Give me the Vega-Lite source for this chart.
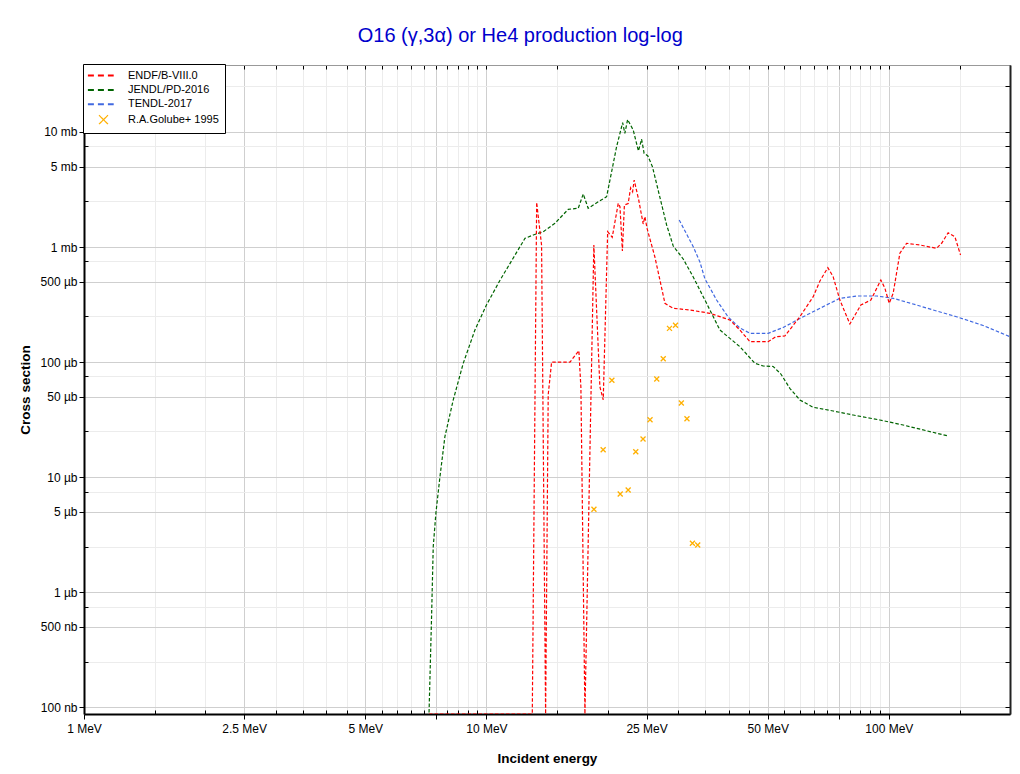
{
  "$schema": "https://vega.github.io/schema/vega-lite/v6.json",
  "width": 926,
  "height": 649,
  "autosize": {"type": "none"},
  "padding": {"left": 84, "top": 65, "right": 10, "bottom": 60},
  "background": "white",
  "title": {"text": "O16 (γ,3α) or He4 production log-log", "font": "Liberation Sans", "fontSize": 20, "fontWeight": "normal", "color": "#0000cc", "anchor": "middle", "frame": "bounds", "offset": 18, "dx": 6},
  "config": {
    "view": {"stroke": null},
    "font": "Liberation Sans",
    "axis": {"labelFont": "Liberation Sans", "titleFont": "Liberation Sans", "labelColor": "#000", "titleColor": "#000", "labelFontSize": 12, "titleFontSize": 13.5, "titleFontWeight": "bold", "tickColor": "#000"}
  },
  "datasets": {
    "lines": [
      {"s": "JENDL/PD-2016", "E": 7.195, "xs": 0.0000809},
      {"s": "JENDL/PD-2016", "E": 7.31, "xs": 0.000661},
      {"s": "JENDL/PD-2016", "E": 7.376, "xs": 0.00249},
      {"s": "JENDL/PD-2016", "E": 7.49, "xs": 0.00489},
      {"s": "JENDL/PD-2016", "E": 7.665, "xs": 0.0101},
      {"s": "JENDL/PD-2016", "E": 7.885, "xs": 0.0225},
      {"s": "JENDL/PD-2016", "E": 8.27, "xs": 0.0469},
      {"s": "JENDL/PD-2016", "E": 8.757, "xs": 0.0976},
      {"s": "JENDL/PD-2016", "E": 9.363, "xs": 0.19},
      {"s": "JENDL/PD-2016", "E": 10.0, "xs": 0.313},
      {"s": "JENDL/PD-2016", "E": 10.8, "xs": 0.512},
      {"s": "JENDL/PD-2016", "E": 11.66, "xs": 0.803},
      {"s": "JENDL/PD-2016", "E": 12.47, "xs": 1.19},
      {"s": "JENDL/PD-2016", "E": 13.07, "xs": 1.271},
      {"s": "JENDL/PD-2016", "E": 13.84, "xs": 1.358},
      {"s": "JENDL/PD-2016", "E": 14.8, "xs": 1.606},
      {"s": "JENDL/PD-2016", "E": 15.97, "xs": 2.126},
      {"s": "JENDL/PD-2016", "E": 16.91, "xs": 2.169},
      {"s": "JENDL/PD-2016", "E": 17.4, "xs": 2.888},
      {"s": "JENDL/PD-2016", "E": 17.9, "xs": 2.169},
      {"s": "JENDL/PD-2016", "E": 18.96, "xs": 2.475},
      {"s": "JENDL/PD-2016", "E": 19.89, "xs": 2.735},
      {"s": "JENDL/PD-2016", "E": 20.47, "xs": 4.51},
      {"s": "JENDL/PD-2016", "E": 21.06, "xs": 7.44},
      {"s": "JENDL/PD-2016", "E": 21.8, "xs": 12.02},
      {"s": "JENDL/PD-2016", "E": 22.08, "xs": 9.72},
      {"s": "JENDL/PD-2016", "E": 22.43, "xs": 12.81},
      {"s": "JENDL/PD-2016", "E": 23.16, "xs": 10.39},
      {"s": "JENDL/PD-2016", "E": 23.86, "xs": 6.83},
      {"s": "JENDL/PD-2016", "E": 24.3, "xs": 8.63},
      {"s": "JENDL/PD-2016", "E": 24.65, "xs": 6.52},
      {"s": "JENDL/PD-2016", "E": 25.19, "xs": 6.18},
      {"s": "JENDL/PD-2016", "E": 25.85, "xs": 4.99},
      {"s": "JENDL/PD-2016", "E": 26.83, "xs": 2.93},
      {"s": "JENDL/PD-2016", "E": 28.04, "xs": 1.553},
      {"s": "JENDL/PD-2016", "E": 29.12, "xs": 1.02},
      {"s": "JENDL/PD-2016", "E": 30.83, "xs": 0.787},
      {"s": "JENDL/PD-2016", "E": 32.65, "xs": 0.549},
      {"s": "JENDL/PD-2016", "E": 35.24, "xs": 0.324},
      {"s": "JENDL/PD-2016", "E": 38.03, "xs": 0.19},
      {"s": "JENDL/PD-2016", "E": 42.65, "xs": 0.136},
      {"s": "JENDL/PD-2016", "E": 46.47, "xs": 0.0976},
      {"s": "JENDL/PD-2016", "E": 48.73, "xs": 0.0925},
      {"s": "JENDL/PD-2016", "E": 51.59, "xs": 0.0916},
      {"s": "JENDL/PD-2016", "E": 53.91, "xs": 0.0788},
      {"s": "JENDL/PD-2016", "E": 56.75, "xs": 0.0592},
      {"s": "JENDL/PD-2016", "E": 60.1, "xs": 0.0469},
      {"s": "JENDL/PD-2016", "E": 64.87, "xs": 0.0405},
      {"s": "JENDL/PD-2016", "E": 72.7, "xs": 0.0376},
      {"s": "JENDL/PD-2016", "E": 81.53, "xs": 0.0347},
      {"s": "JENDL/PD-2016", "E": 94.97, "xs": 0.0314},
      {"s": "JENDL/PD-2016", "E": 108.5, "xs": 0.0284},
      {"s": "JENDL/PD-2016", "E": 140.4, "xs": 0.0228},
      {"s": "TENDL-2017", "E": 30.13, "xs": 1.717},
      {"s": "TENDL-2017", "E": 32.65, "xs": 1.006},
      {"s": "TENDL-2017", "E": 33.92, "xs": 0.741},
      {"s": "TENDL-2017", "E": 34.9, "xs": 0.53},
      {"s": "TENDL-2017", "E": 37.32, "xs": 0.3463},
      {"s": "TENDL-2017", "E": 39.87, "xs": 0.2465},
      {"s": "TENDL-2017", "E": 42.65, "xs": 0.1978},
      {"s": "TENDL-2017", "E": 45.16, "xs": 0.178},
      {"s": "TENDL-2017", "E": 50.13, "xs": 0.178},
      {"s": "TENDL-2017", "E": 54.63, "xs": 0.1998},
      {"s": "TENDL-2017", "E": 60.1, "xs": 0.2392},
      {"s": "TENDL-2017", "E": 66.14, "xs": 0.2836},
      {"s": "TENDL-2017", "E": 75.56, "xs": 0.3583},
      {"s": "TENDL-2017", "E": 83.15, "xs": 0.3752},
      {"s": "TENDL-2017", "E": 93.2, "xs": 0.3752},
      {"s": "TENDL-2017", "E": 102.5, "xs": 0.3583},
      {"s": "TENDL-2017", "E": 117.2, "xs": 0.3133},
      {"s": "TENDL-2017", "E": 128.8, "xs": 0.2836},
      {"s": "TENDL-2017", "E": 147.3, "xs": 0.248},
      {"s": "TENDL-2017", "E": 171.5, "xs": 0.208},
      {"s": "TENDL-2017", "E": 200, "xs": 0.1662},
      {"s": "ENDF/B-VIII.0", "E": 7.2, "xs": 0.00008764},
      {"s": "ENDF/B-VIII.0", "E": 13.0, "xs": 0.00008764},
      {"s": "ENDF/B-VIII.0", "E": 13.33, "xs": 2.44},
      {"s": "ENDF/B-VIII.0", "E": 13.71, "xs": 1.035},
      {"s": "ENDF/B-VIII.0", "E": 14.03, "xs": 0.00008764},
      {"s": "ENDF/B-VIII.0", "E": 14.24, "xs": 0.052},
      {"s": "ENDF/B-VIII.0", "E": 14.52, "xs": 0.1},
      {"s": "ENDF/B-VIII.0", "E": 16.13, "xs": 0.1},
      {"s": "ENDF/B-VIII.0", "E": 16.97, "xs": 0.1256},
      {"s": "ENDF/B-VIII.0", "E": 17.17, "xs": 0.06},
      {"s": "ENDF/B-VIII.0", "E": 17.57, "xs": 0.00008764},
      {"s": "ENDF/B-VIII.0", "E": 18.49, "xs": 1.041},
      {"s": "ENDF/B-VIII.0", "E": 19.14, "xs": 0.0611},
      {"s": "ENDF/B-VIII.0", "E": 19.51, "xs": 0.047},
      {"s": "ENDF/B-VIII.0", "E": 20.01, "xs": 1.361},
      {"s": "ENDF/B-VIII.0", "E": 20.54, "xs": 1.214},
      {"s": "ENDF/B-VIII.0", "E": 21.26, "xs": 2.397},
      {"s": "ENDF/B-VIII.0", "E": 21.47, "xs": 2.239},
      {"s": "ENDF/B-VIII.0", "E": 21.77, "xs": 0.923},
      {"s": "ENDF/B-VIII.0", "E": 22.02, "xs": 2.317},
      {"s": "ENDF/B-VIII.0", "E": 22.5, "xs": 2.388},
      {"s": "ENDF/B-VIII.0", "E": 22.82, "xs": 3.268},
      {"s": "ENDF/B-VIII.0", "E": 23.08, "xs": 3.023},
      {"s": "ENDF/B-VIII.0", "E": 23.29, "xs": 3.82},
      {"s": "ENDF/B-VIII.0", "E": 23.9, "xs": 2.561},
      {"s": "ENDF/B-VIII.0", "E": 24.52, "xs": 1.584},
      {"s": "ENDF/B-VIII.0", "E": 24.76, "xs": 1.834},
      {"s": "ENDF/B-VIII.0", "E": 25.09, "xs": 1.434},
      {"s": "ENDF/B-VIII.0", "E": 26.22, "xs": 0.819},
      {"s": "ENDF/B-VIII.0", "E": 26.98, "xs": 0.517},
      {"s": "ENDF/B-VIII.0", "E": 27.77, "xs": 0.3243},
      {"s": "ENDF/B-VIII.0", "E": 28.3, "xs": 0.3102},
      {"s": "ENDF/B-VIII.0", "E": 29.12, "xs": 0.2935},
      {"s": "ENDF/B-VIII.0", "E": 32.03, "xs": 0.2836},
      {"s": "ENDF/B-VIII.0", "E": 35.92, "xs": 0.2655},
      {"s": "ENDF/B-VIII.0", "E": 40.27, "xs": 0.2321},
      {"s": "ENDF/B-VIII.0", "E": 42.65, "xs": 0.19},
      {"s": "ENDF/B-VIII.0", "E": 45.16, "xs": 0.1504},
      {"s": "ENDF/B-VIII.0", "E": 50.13, "xs": 0.1504},
      {"s": "ENDF/B-VIII.0", "E": 52.4, "xs": 0.1662},
      {"s": "ENDF/B-VIII.0", "E": 55.15, "xs": 0.1685},
      {"s": "ENDF/B-VIII.0", "E": 60.1, "xs": 0.248},
      {"s": "ENDF/B-VIII.0", "E": 64.87, "xs": 0.37},
      {"s": "ENDF/B-VIII.0", "E": 67.41, "xs": 0.507},
      {"s": "ENDF/B-VIII.0", "E": 70.54, "xs": 0.661},
      {"s": "ENDF/B-VIII.0", "E": 72.7, "xs": 0.552},
      {"s": "ENDF/B-VIII.0", "E": 75.56, "xs": 0.346},
      {"s": "ENDF/B-VIII.0", "E": 80.01, "xs": 0.2143},
      {"s": "ENDF/B-VIII.0", "E": 85.2, "xs": 0.3133},
      {"s": "ENDF/B-VIII.0", "E": 90.22, "xs": 0.3463},
      {"s": "ENDF/B-VIII.0", "E": 95.52, "xs": 0.517},
      {"s": "ENDF/B-VIII.0", "E": 97.73, "xs": 0.44},
      {"s": "ENDF/B-VIII.0", "E": 100.2, "xs": 0.3243},
      {"s": "ENDF/B-VIII.0", "E": 102.5, "xs": 0.396},
      {"s": "ENDF/B-VIII.0", "E": 106.5, "xs": 0.882},
      {"s": "ENDF/B-VIII.0", "E": 110.7, "xs": 1.077},
      {"s": "ENDF/B-VIII.0", "E": 119.4, "xs": 1.041},
      {"s": "ENDF/B-VIII.0", "E": 131.4, "xs": 0.974},
      {"s": "ENDF/B-VIII.0", "E": 135.4, "xs": 1.083},
      {"s": "ENDF/B-VIII.0", "E": 140.4, "xs": 1.331},
      {"s": "ENDF/B-VIII.0", "E": 145.9, "xs": 1.229},
      {"s": "ENDF/B-VIII.0", "E": 150.7, "xs": 0.852}
    ],
    "exp": [
      {"s": "R.A.Golube+ 1995", "E": 18.5, "xs": 0.00526},
      {"s": "R.A.Golube+ 1995", "E": 19.5, "xs": 0.01734},
      {"s": "R.A.Golube+ 1995", "E": 20.5, "xs": 0.0695},
      {"s": "R.A.Golube+ 1995", "E": 21.5, "xs": 0.00715},
      {"s": "R.A.Golube+ 1995", "E": 22.5, "xs": 0.00774},
      {"s": "R.A.Golube+ 1995", "E": 23.5, "xs": 0.01665},
      {"s": "R.A.Golube+ 1995", "E": 24.5, "xs": 0.02147},
      {"s": "R.A.Golube+ 1995", "E": 25.5, "xs": 0.0316},
      {"s": "R.A.Golube+ 1995", "E": 26.5, "xs": 0.0713},
      {"s": "R.A.Golube+ 1995", "E": 27.5, "xs": 0.107},
      {"s": "R.A.Golube+ 1995", "E": 28.5, "xs": 0.1965},
      {"s": "R.A.Golube+ 1995", "E": 29.5, "xs": 0.2088},
      {"s": "R.A.Golube+ 1995", "E": 30.5, "xs": 0.0441},
      {"s": "R.A.Golube+ 1995", "E": 31.5, "xs": 0.0322},
      {"s": "R.A.Golube+ 1995", "E": 32.5, "xs": 0.00267},
      {"s": "R.A.Golube+ 1995", "E": 33.5, "xs": 0.00258}
    ]
  },
  "layer": [
    {
      "data": {"name": "lines"},
      "mark": {"type": "line", "strokeDash": [3.5, 2], "strokeWidth": 1.2, "clip": true},
      "encoding": {
        "x": {
          "field": "E", "type": "quantitative",
          "scale": {"type": "log", "domain": [1, 200], "nice": false, "zero": false},
          "axis": {
            "orient": "bottom",
            "values": [1,1.5,2,2.5,3,3.5,4,4.5,5,5.5,6,6.5,7,7.5,8,8.5,9,9.5,10,15,20,25,30,35,40,45,50,55,60,65,70,75,80,85,90,95,100,150,200],
            "labelExpr": "indexof([1,2.5,5,10,25,50,100], datum.value) >= 0 ? datum.value + ' MeV' : ''",
            "labelFlush": false,
            "labelOverlap": false,
            "grid": true,
            "gridColor": {"condition": {"test": "indexof([1,2.5,5,7.5,10,25,50,75,100], datum.value) >= 0", "value": "#cfcfcf"}, "value": "#ececec"},
            "tickSize": {"condition": {"test": "indexof([1,2.5,5,7.5,10,25,50,75,100], datum.value) >= 0", "value": 5}, "value": -4},
            "domainColor": "#000",
            "domainWidth": 2,
            "labelPadding": 4,
            "title": "Incident energy",
            "titlePadding": 17
          }
        },
        "y": {
          "field": "xs", "type": "quantitative",
          "scale": {"type": "log", "domain": [0.00008764, 38.13], "nice": false, "zero": false},
          "axis": {
            "orient": "left",
            "values": [0.0001,0.00025,0.0005,0.00075,0.001,0.0025,0.005,0.0075,0.01,0.025,0.05,0.075,0.1,0.25,0.5,0.75,1,2.5,5,7.5,10,25],
            "labelExpr": "indexof([0.0001,0.0005,0.001,0.005,0.01,0.05,0.1,0.5,1,5,10], datum.value) >= 0 ? (datum.value >= 1 ? format(datum.value, '.3~g') + ' mb' : datum.value >= 0.001 ? format(datum.value * 1000, '.3~g') + ' µb' : format(datum.value * 1000000, '.3~g') + ' nb') : ''",
            "labelOverlap": false,
            "labelFlush": false,
            "grid": true,
            "gridColor": {"condition": {"test": "indexof([0.0001,0.0005,0.001,0.005,0.01,0.05,0.1,0.5,1,5,10], datum.value) >= 0", "value": "#cfcfcf"}, "value": "#ececec"},
            "tickSize": {"condition": {"test": "indexof([0.0001,0.0005,0.001,0.005,0.01,0.05,0.1,0.5,1,5,10], datum.value) >= 0", "value": 5}, "value": -4},
            "domainColor": "#000",
            "domainWidth": 2,
            "labelPadding": 2,
            "title": "Cross section",
            "titlePadding": 8
          }
        },
        "color": {
          "field": "s", "type": "nominal",
          "scale": {"domain": ["ENDF/B-VIII.0", "JENDL/PD-2016", "TENDL-2017", "R.A.Golube+ 1995"], "range": ["#ff0000", "#006400", "#4169e1", "#ffb000"]},
          "legend": {
            "title": null,
            "orient": "none",
            "legendX": -1,
            "legendY": -1,
            "direction": "vertical",
            "fillColor": "white",
            "strokeColor": "#000",
            "cornerRadius": 0,
            "padding": 6,
            "symbolType": "stroke",
            "symbolSize": 144,
            "symbolStrokeWidth": 2,
            "symbolDash": [6, 4],
            "rowPadding": 2.4,
            "labelFont": "Liberation Sans",
            "labelFontSize": 11,
            "labelColor": "#000",
            "labelOffset": 28,
            "encode": {
              "symbols": {
                "update": {
                  "shape": {"signal": "datum.value === 'R.A.Golube+ 1995' ? 'M0.75,-0.75L2.25,0.75M2.25,-0.75L0.75,0.75' : 'M-1.1,0L3.2,0'"},
                  "size": {"value": 144},
                  "strokeDash": {"signal": "datum.value === 'R.A.Golube+ 1995' ? [1, 0] : [6, 4]"},
                  "strokeWidth": {"signal": "datum.value === 'R.A.Golube+ 1995' ? 1.2 : 2"},
                  "fill": {"value": "transparent"},
                  "opacity": {"value": 1}
                }
              }
            }
          }
        }
      }
    },
    {
      "data": {"name": "exp"},
      "mark": {"type": "point", "shape": "M-1,-1L1,1M1,-1L-1,1", "size": 25, "filled": false, "strokeWidth": 1.3, "opacity": 1},
      "encoding": {
        "x": {
          "field": "E", "type": "quantitative",
          "scale": {"type": "log", "domain": [1, 200], "nice": false, "zero": false},
          "axis": {
            "orient": "top",
            "values": [1,1.5,2,2.5,3,3.5,4,4.5,5,5.5,6,6.5,7,7.5,8,8.5,9,9.5,10,15,20,25,30,35,40,45,50,55,60,65,70,75,80,85,90,95,100,150,200],
            "labels": false,
            "grid": false,
            "tickSize": -4,
            "domainColor": "#999",
            "domainWidth": 1,
            "title": null
          }
        },
        "y": {
          "field": "xs", "type": "quantitative",
          "scale": {"type": "log", "domain": [0.00008764, 38.13], "nice": false, "zero": false},
          "axis": {
            "orient": "right",
            "values": [0.0001,0.00025,0.0005,0.00075,0.001,0.0025,0.005,0.0075,0.01,0.025,0.05,0.075,0.1,0.25,0.5,0.75,1,2.5,5,7.5,10,25],
            "labels": false,
            "grid": false,
            "tickSize": -5,
            "domainColor": "#222",
            "domainWidth": 2,
            "title": null
          }
        },
        "color": {"field": "s", "type": "nominal", "legend": null}
      }
    }
  ],
  "resolve": {"axis": {"x": "independent", "y": "independent"}}
}
